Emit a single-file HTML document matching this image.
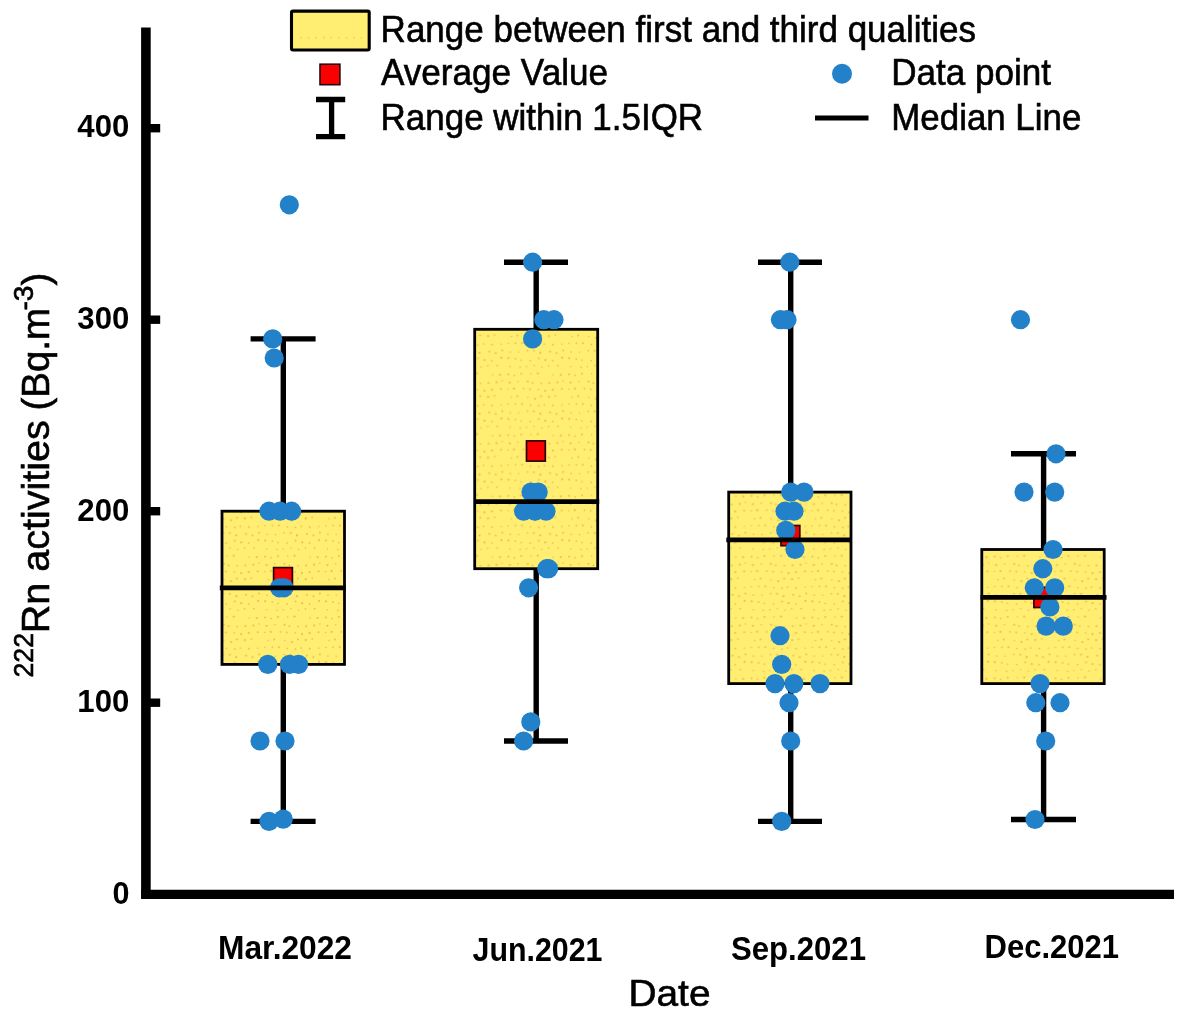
<!DOCTYPE html>
<html lang="en"><head><meta charset="utf-8"><title>222Rn activities box plot</title>
<style>
html,body{margin:0;padding:0;background:#fff}
body{width:1181px;height:1014px;overflow:hidden}
svg{display:block;filter:blur(0.55px);font-family:"Liberation Sans",Arial,Helvetica,sans-serif;fill:#000}
.r{stroke:#000;stroke-width:0.6px}
</style></head><body>
<svg width="1181" height="1014" viewBox="0 0 1181 1014">
<defs>
<pattern id="dots" width="60.8" height="60.8" patternUnits="userSpaceOnUse">
<rect width="60.8" height="60.8" fill="#ffee72"/>
<g fill="#efb03a" fill-opacity="0.8"><circle cx="1.4" cy="0.9" r="0.8"/><circle cx="10.6" cy="0.7" r="0.9"/><circle cx="23.5" cy="1.8" r="0.8"/><circle cx="33.8" cy="2.4" r="0.8"/><circle cx="40.2" cy="1.7" r="0.8"/><circle cx="47.8" cy="0.8" r="0.8"/><circle cx="55.4" cy="2.2" r="0.8"/><circle cx="6.1" cy="10.0" r="0.8"/><circle cx="13.6" cy="10.0" r="1.1"/><circle cx="21.9" cy="9.5" r="1.0"/><circle cx="28.0" cy="10.5" r="0.9"/><circle cx="34.9" cy="9.0" r="1.0"/><circle cx="44.5" cy="8.9" r="0.8"/><circle cx="51.4" cy="8.5" r="1.1"/><circle cx="2.2" cy="18.1" r="1.0"/><circle cx="10.2" cy="17.5" r="1.1"/><circle cx="15.8" cy="15.9" r="0.8"/><circle cx="23.4" cy="17.8" r="1.1"/><circle cx="31.7" cy="16.8" r="0.8"/><circle cx="41.4" cy="16.7" r="1.1"/><circle cx="46.2" cy="18.1" r="0.9"/><circle cx="54.9" cy="18.5" r="0.9"/><circle cx="5.6" cy="25.0" r="1.1"/><circle cx="14.6" cy="24.1" r="1.0"/><circle cx="21.6" cy="24.4" r="0.8"/><circle cx="27.6" cy="23.9" r="1.1"/><circle cx="37.3" cy="23.8" r="0.9"/><circle cx="43.5" cy="24.4" r="0.9"/><circle cx="52.0" cy="24.8" r="0.8"/><circle cx="58.9" cy="26.0" r="1.1"/><circle cx="1.7" cy="32.1" r="1.1"/><circle cx="8.2" cy="31.0" r="0.9"/><circle cx="25.0" cy="32.5" r="0.8"/><circle cx="31.0" cy="31.5" r="1.0"/><circle cx="41.5" cy="32.7" r="0.8"/><circle cx="48.7" cy="34.0" r="1.1"/><circle cx="54.6" cy="31.3" r="1.0"/><circle cx="5.7" cy="40.6" r="0.9"/><circle cx="14.8" cy="40.1" r="0.8"/><circle cx="21.8" cy="39.4" r="0.8"/><circle cx="29.2" cy="39.2" r="0.9"/><circle cx="35.7" cy="39.1" r="1.0"/><circle cx="44.2" cy="40.4" r="0.9"/><circle cx="52.4" cy="41.0" r="0.9"/><circle cx="58.0" cy="40.0" r="0.8"/><circle cx="2.9" cy="47.5" r="1.0"/><circle cx="9.4" cy="49.0" r="1.0"/><circle cx="15.9" cy="46.3" r="1.0"/><circle cx="23.9" cy="48.0" r="0.8"/><circle cx="32.3" cy="48.1" r="0.8"/><circle cx="41.1" cy="46.4" r="0.9"/><circle cx="47.5" cy="46.6" r="1.0"/><circle cx="53.9" cy="49.0" r="1.1"/><circle cx="5.5" cy="56.6" r="0.9"/><circle cx="15.0" cy="53.7" r="1.1"/><circle cx="22.0" cy="54.1" r="1.1"/><circle cx="29.1" cy="54.7" r="0.9"/><circle cx="34.7" cy="56.2" r="0.8"/><circle cx="43.9" cy="56.6" r="0.9"/><circle cx="52.4" cy="54.3" r="1.0"/><circle cx="59.0" cy="56.0" r="1.1"/></g>
</pattern>
</defs>
<rect width="1181" height="1014" fill="#fff"/>
<path d="M283.3 338.9V821.4M250.6 338.9H315.6M250.6 821.4H315.6" stroke="#000" stroke-width="5.4" fill="none"/>
<rect x="222" y="511.2" width="122.5" height="153.2" fill="url(#dots)" stroke="#000" stroke-width="2.8"/>
<rect x="273.6" y="567.6" width="18.8" height="20.2" fill="#fb0000" stroke="#2a0505" stroke-width="1.7"/>
<path d="M536.2 262.2V741.0M504 262.2H568M504 741.0H568" stroke="#000" stroke-width="5.4" fill="none"/>
<rect x="474.7" y="329.3" width="123.0" height="239.4" fill="url(#dots)" stroke="#000" stroke-width="2.8"/>
<rect x="526.5" y="440.9" width="18.8" height="20.2" fill="#fb0000" stroke="#2a0505" stroke-width="1.7"/>
<path d="M790.7 262.2V821.4M758 262.2H822M758 821.4H822" stroke="#000" stroke-width="5.4" fill="none"/>
<rect x="728.7" y="492.1" width="122.3" height="191.5" fill="url(#dots)" stroke="#000" stroke-width="2.8"/>
<rect x="781.0" y="525.5" width="18.8" height="20.2" fill="#fb0000" stroke="#2a0505" stroke-width="1.7"/>
<path d="M1043.6 453.8V819.5M1011 453.8H1076M1011 819.5H1076" stroke="#000" stroke-width="5.4" fill="none"/>
<rect x="981.8" y="549.5" width="122.4" height="134.1" fill="url(#dots)" stroke="#000" stroke-width="2.8"/>
<rect x="1033.9" y="587.3" width="18.8" height="20.2" fill="#fb0000" stroke="#2a0505" stroke-width="1.7"/>
<circle cx="289.3" cy="204.8" r="9.6" fill="#2381ca"/>
<circle cx="272.7" cy="338.9" r="9.6" fill="#2381ca"/>
<circle cx="274.2" cy="358.0" r="9.6" fill="#2381ca"/>
<circle cx="269" cy="511.2" r="9.6" fill="#2381ca"/>
<circle cx="280" cy="511.2" r="9.6" fill="#2381ca"/>
<circle cx="291.6" cy="511.2" r="9.6" fill="#2381ca"/>
<circle cx="279.5" cy="587.8" r="9.6" fill="#2381ca"/>
<circle cx="284" cy="587.8" r="9.6" fill="#2381ca"/>
<circle cx="267.8" cy="664.4" r="9.6" fill="#2381ca"/>
<circle cx="289.5" cy="664.4" r="9.6" fill="#2381ca"/>
<circle cx="298.5" cy="664.4" r="9.6" fill="#2381ca"/>
<circle cx="260" cy="741.0" r="9.6" fill="#2381ca"/>
<circle cx="285" cy="741.0" r="9.6" fill="#2381ca"/>
<circle cx="269" cy="821.4" r="9.6" fill="#2381ca"/>
<circle cx="283.2" cy="819.1" r="9.6" fill="#2381ca"/>
<circle cx="532.6" cy="262.2" r="9.6" fill="#2381ca"/>
<circle cx="543.8" cy="319.7" r="9.6" fill="#2381ca"/>
<circle cx="554" cy="319.7" r="9.6" fill="#2381ca"/>
<circle cx="532.6" cy="338.9" r="9.6" fill="#2381ca"/>
<circle cx="531" cy="492.1" r="9.6" fill="#2381ca"/>
<circle cx="538.2" cy="492.1" r="9.6" fill="#2381ca"/>
<circle cx="523.6" cy="511.2" r="9.6" fill="#2381ca"/>
<circle cx="535" cy="511.2" r="9.6" fill="#2381ca"/>
<circle cx="546" cy="511.2" r="9.6" fill="#2381ca"/>
<circle cx="546.8" cy="568.7" r="9.6" fill="#2381ca"/>
<circle cx="548.6" cy="568.7" r="9.6" fill="#2381ca"/>
<circle cx="528.6" cy="587.8" r="9.6" fill="#2381ca"/>
<circle cx="530.8" cy="721.9" r="9.6" fill="#2381ca"/>
<circle cx="523.6" cy="741.0" r="9.6" fill="#2381ca"/>
<circle cx="789.8" cy="262.2" r="9.6" fill="#2381ca"/>
<circle cx="780.4" cy="319.7" r="9.6" fill="#2381ca"/>
<circle cx="787" cy="319.7" r="9.6" fill="#2381ca"/>
<circle cx="790.7" cy="492.1" r="9.6" fill="#2381ca"/>
<circle cx="804" cy="492.1" r="9.6" fill="#2381ca"/>
<circle cx="785" cy="511.2" r="9.6" fill="#2381ca"/>
<circle cx="794" cy="511.2" r="9.6" fill="#2381ca"/>
<circle cx="785.8" cy="530.4" r="9.6" fill="#2381ca"/>
<circle cx="795" cy="549.5" r="9.6" fill="#2381ca"/>
<circle cx="780" cy="635.7" r="9.6" fill="#2381ca"/>
<circle cx="781.7" cy="664.4" r="9.6" fill="#2381ca"/>
<circle cx="775" cy="683.6" r="9.6" fill="#2381ca"/>
<circle cx="793.9" cy="683.6" r="9.6" fill="#2381ca"/>
<circle cx="820" cy="683.6" r="9.6" fill="#2381ca"/>
<circle cx="789" cy="702.7" r="9.6" fill="#2381ca"/>
<circle cx="790.7" cy="741.0" r="9.6" fill="#2381ca"/>
<circle cx="781.7" cy="821.4" r="9.6" fill="#2381ca"/>
<circle cx="1020.5" cy="319.7" r="9.6" fill="#2381ca"/>
<circle cx="1056" cy="453.8" r="9.6" fill="#2381ca"/>
<circle cx="1024" cy="492.1" r="9.6" fill="#2381ca"/>
<circle cx="1054.7" cy="492.1" r="9.6" fill="#2381ca"/>
<circle cx="1053" cy="549.5" r="9.6" fill="#2381ca"/>
<circle cx="1042.8" cy="568.7" r="9.6" fill="#2381ca"/>
<circle cx="1034.3" cy="587.8" r="9.6" fill="#2381ca"/>
<circle cx="1054.7" cy="587.8" r="9.6" fill="#2381ca"/>
<circle cx="1049.9" cy="607.0" r="9.6" fill="#2381ca"/>
<circle cx="1046.1" cy="626.1" r="9.6" fill="#2381ca"/>
<circle cx="1063.3" cy="626.1" r="9.6" fill="#2381ca"/>
<circle cx="1040" cy="683.6" r="9.6" fill="#2381ca"/>
<circle cx="1035.8" cy="702.7" r="9.6" fill="#2381ca"/>
<circle cx="1060" cy="702.7" r="9.6" fill="#2381ca"/>
<circle cx="1045.7" cy="741.0" r="9.6" fill="#2381ca"/>
<circle cx="1035" cy="819.5" r="9.6" fill="#2381ca"/>
<path d="M219.8 587.8H345.8" stroke="#000" stroke-width="4.8"/>
<path d="M474.2 501.6H599.2" stroke="#000" stroke-width="4.8"/>
<path d="M726.3 539.9H850.6" stroke="#000" stroke-width="4.8"/>
<path d="M980.5 597.4H1106.5" stroke="#000" stroke-width="4.8"/>
<path d="M145.9 27.5V898.6" stroke="#000" stroke-width="9.6" fill="none"/><path d="M141.1 894.3H1174" stroke="#000" stroke-width="9.2" fill="none"/><path d="M141 894.3H1174" stroke="#000" stroke-width="8.6" fill="none"/>
<path d="M150 702.7H160.2" stroke="#000" stroke-width="8.4"/>
<path d="M150 511.2H160.2" stroke="#000" stroke-width="8.4"/>
<path d="M150 319.7H160.2" stroke="#000" stroke-width="8.4"/>
<path d="M150 128.2H160.2" stroke="#000" stroke-width="8.4"/>
<text x="77.3" y="137.4" font-size="31.5" font-weight="700" text-anchor="start" textLength="52" lengthAdjust="spacingAndGlyphs">400</text>
<text x="77.3" y="328.8" font-size="31.5" font-weight="700" text-anchor="start" textLength="52" lengthAdjust="spacingAndGlyphs">300</text>
<text x="77.3" y="520.8" font-size="31.5" font-weight="700" text-anchor="start" textLength="52" lengthAdjust="spacingAndGlyphs">200</text>
<text x="77.3" y="712.2" font-size="31.5" font-weight="700" text-anchor="start" textLength="52" lengthAdjust="spacingAndGlyphs">100</text>
<text x="112.6" y="903.6" font-size="31.5" font-weight="700" text-anchor="start" textLength="17" lengthAdjust="spacingAndGlyphs">0</text>
<text x="218" y="959" font-size="32.5" font-weight="700" text-anchor="start" textLength="134" lengthAdjust="spacingAndGlyphs">Mar.2022</text>
<text x="472.5" y="961.3" font-size="32.5" font-weight="700" text-anchor="start" textLength="130" lengthAdjust="spacingAndGlyphs">Jun.2021</text>
<text x="731" y="959.8" font-size="32.5" font-weight="700" text-anchor="start" textLength="135" lengthAdjust="spacingAndGlyphs">Sep.2021</text>
<text x="984.5" y="958.4" font-size="32.5" font-weight="700" text-anchor="start" textLength="134.5" lengthAdjust="spacingAndGlyphs">Dec.2021</text>
<text x="628.5" y="1005.5" font-size="36.5" class="r" text-anchor="start" textLength="82" lengthAdjust="spacingAndGlyphs">Date</text>
<rect x="291.5" y="11.1" width="77.7" height="38.9" rx="1.5" fill="#ffee72" stroke="#000" stroke-width="3.1"/>
<path d="M300 37.7H362" stroke="#f3bf48" stroke-opacity="0.6" stroke-width="1.8" stroke-dasharray="1.8 5.8" fill="none"/>
<text x="380.6" y="42.2" font-size="36.5" class="r" text-anchor="start" textLength="595.5" lengthAdjust="spacingAndGlyphs">Range between first and third qualities</text>
<rect x="320" y="64.2" width="19.9" height="20.5" fill="#fb0000" stroke="#2a0505" stroke-width="1.6"/>
<text x="381" y="85.3" font-size="36.5" class="r" text-anchor="start" textLength="227" lengthAdjust="spacingAndGlyphs">Average Value</text>
<path d="M331.6 99.5V136.6M316 99.5H345.2M316 136.6H345.2" stroke="#000" stroke-width="5.3" fill="none"/>
<text x="380.6" y="129.9" font-size="36.5" class="r" text-anchor="start" textLength="322.5" lengthAdjust="spacingAndGlyphs">Range within 1.5IQR</text>
<circle cx="842" cy="73.8" r="10" fill="#2381ca"/>
<text x="891.3" y="85.3" font-size="36.5" class="r" text-anchor="start" textLength="159.7" lengthAdjust="spacingAndGlyphs">Data point</text>
<path d="M815 118H868.5" stroke="#000" stroke-width="4.8"/>
<text x="891.3" y="130.3" font-size="36.5" class="r" text-anchor="start" textLength="190" lengthAdjust="spacingAndGlyphs">Median Line</text>
<g transform="translate(48.5,676.5) rotate(-90)"><text class="r" x="-1" y="-15.3" font-size="27.5" textLength="44.5" lengthAdjust="spacingAndGlyphs">222</text><text class="r" x="43.3" y="0" font-size="38.5" textLength="213" lengthAdjust="spacingAndGlyphs">Rn activities</text><text class="r" x="266" y="0" font-size="38.5" textLength="102.5" lengthAdjust="spacingAndGlyphs">(Bq.m</text><text class="r" x="366" y="-15.3" font-size="27.5" textLength="25" lengthAdjust="spacingAndGlyphs">-3</text><text class="r" x="391" y="0" font-size="38.5">)</text></g>
</svg>
</body></html>
